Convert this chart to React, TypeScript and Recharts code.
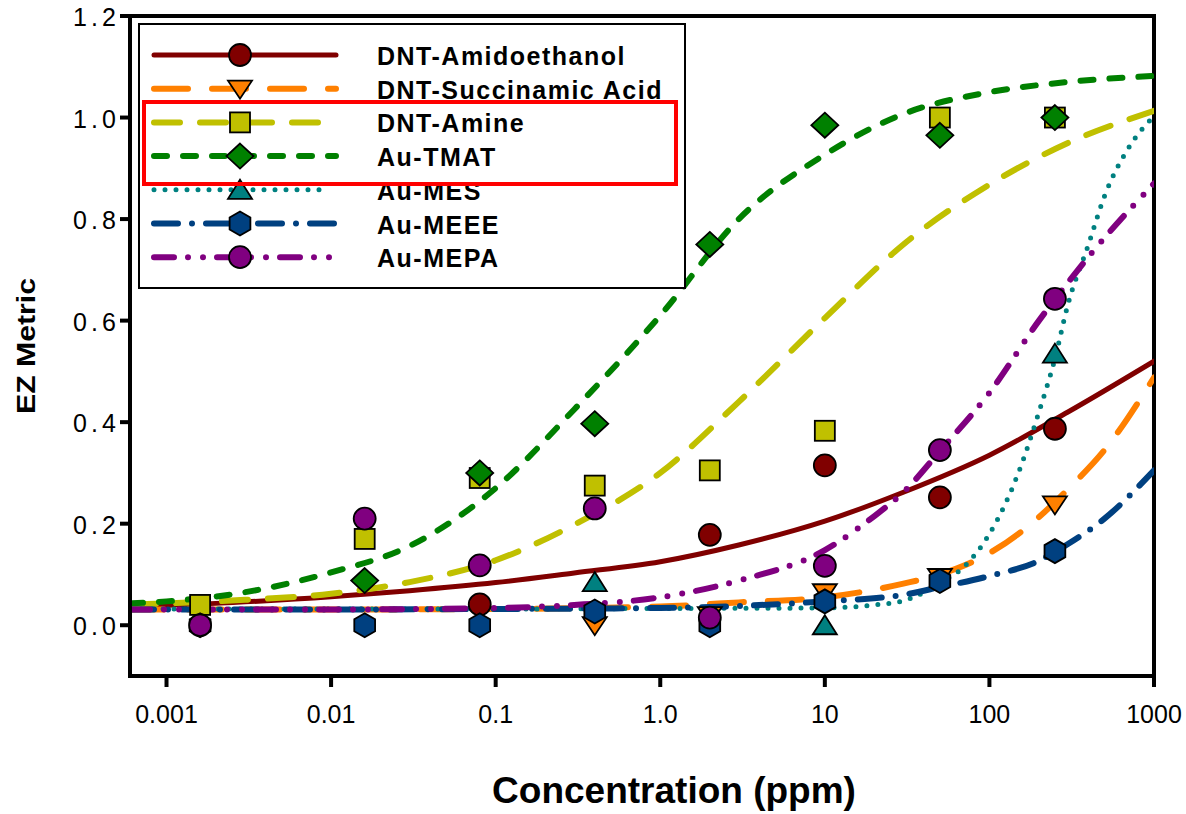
import {
  ComposedChart,
  Label,
  Line,
  ReferenceArea,
  Scatter,
  XAxis,
  YAxis,
} from "recharts";

const FONT = '"Liberation Sans", Arial, Helvetica, sans-serif';

// measured concentrations (ppm) and EZ metric per sensor; null = not visible
const sampleConc = [0.0016, 0.016, 0.08, 0.4, 2, 10, 50, 250];
const amidoethanolEz = [null, null, 0.041, null, 0.178, 0.315, 0.252, 0.387];
const succinamicEz = [null, null, null, 0.0, 0.02, 0.065, 0.095, 0.238];
const amineEz = [0.04, 0.17, 0.29, 0.275, 0.305, 0.383, 1.0, 1.0];
const tmatEz = [null, 0.088, 0.3, 0.397, 0.75, 0.985, 0.965, 1.0];
const mesEz = [null, null, null, 0.085, null, 0.0, null, 0.535];
const meeeEz = [0, 0, 0, 0.027, 0, 0.047, 0.087, 0.146];
const mepaEz = [0, 0.21, 0.118, 0.23, 0.015, 0.117, 0.345, 0.643];

// fitted curves, values
const fitConc = [0.0006, 0.001, 0.003, 0.01, 0.03, 0.1, 0.3, 1, 3, 10, 30, 100, 300, 1000];
const amidoethanolFit = [0.037, 0.039, 0.046, 0.056, 0.068, 0.084, 0.103, 0.125, 0.158, 0.205, 0.262, 0.335, 0.42, 0.52];
const amineFit = [0.041, 0.043, 0.05, 0.062, 0.085, 0.128, 0.198, 0.3, 0.44, 0.605, 0.75, 0.868, 0.95, 1.013];
const tmatFit = [0.043, 0.047, 0.065, 0.104, 0.156, 0.27, 0.425, 0.61, 0.8, 0.927, 1.007, 1.05, 1.07, 1.082];

const succinamicFitConc = [0.0006, 0.01, 0.1, 1, 3, 10, 30, 50, 100, 200, 300, 500, 1000];
const succinamicFit = [0.031, 0.031, 0.032, 0.037, 0.045, 0.055, 0.082, 0.1, 0.142, 0.213, 0.268, 0.345, 0.488];

const meeeFitConc = [0.0006, 0.01, 0.1, 1, 3, 10, 30, 50, 100, 200, 300, 500, 1000];
const meeeFit = [0.031, 0.031, 0.032, 0.034, 0.038, 0.047, 0.06, 0.075, 0.097, 0.127, 0.16, 0.21, 0.305];

const mesFitConc = [0.0006, 0.1, 1, 10, 20, 30, 50, 70, 100, 150, 200, 250, 300, 400, 500, 700, 1000];
const mesFit = [0.032, 0.032, 0.033, 0.034, 0.04, 0.048, 0.083, 0.115, 0.18, 0.3, 0.42, 0.525, 0.632, 0.75, 0.845, 0.94, 1.003];

const mepaFitConc = [0.0006, 0.01, 0.1, 0.3, 1, 3, 10, 20, 30, 50, 100, 200, 300, 500, 1000];
const mepaFit = [0.031, 0.031, 0.034, 0.04, 0.055, 0.088, 0.148, 0.215, 0.262, 0.343, 0.458, 0.6, 0.675, 0.763, 0.87];

const xTicks = [0.001, 0.01, 0.1, 1, 10, 100, 1000];
const xTickLabels = ["0.001", "0.01", "0.1", "1.0", "10", "100", "1000"];
const yTicks = [0, 0.2, 0.4, 0.6, 0.8, 1.0, 1.2];
const yTickLabels = ["0.0", "0.2", "0.4", "0.6", "0.8", "1.0", "1.2"];

type Pt = { x: number; y: number };
const zip = (xs: number[], ys: (number | null)[]): Pt[] =>
  xs
    .map((x, i) => ({ x, y: ys[i] }))
    .filter((p): p is Pt => p.y !== null);

type MarkerKind = "circle" | "triDown" | "square" | "diamond" | "triUp" | "hexagon";

const series: {
  name: string;
  color: string;
  marker: MarkerKind;
  width: number;
  dash?: string;
  points: Pt[];
  fit: Pt[];
}[] = [
  { name: "DNT-Amidoethanol", color: "#800000", marker: "circle", width: 5, points: zip(sampleConc, amidoethanolEz), fit: zip(fitConc, amidoethanolFit) },
  { name: "DNT-Succinamic Acid", color: "#ff8000", marker: "triDown", width: 6, dash: "34 24", points: zip(sampleConc, succinamicEz), fit: zip(succinamicFitConc, succinamicFit) },
  { name: "DNT-Amine", color: "#c0c000", marker: "square", width: 6, dash: "26 20", points: zip(sampleConc, amineEz), fit: zip(fitConc, amineFit) },
  { name: "Au-TMAT", color: "#008000", marker: "diamond", width: 6, dash: "13 16", points: zip(sampleConc, tmatEz), fit: zip(fitConc, tmatFit) },
  { name: "Au-MES", color: "#008080", marker: "triUp", width: 5, dash: "0 11", points: zip(sampleConc, mesEz), fit: zip(mesFitConc, mesFit) },
  { name: "Au-MEEE", color: "#004080", marker: "hexagon", width: 6, dash: "24 14 0 14", points: zip(sampleConc, meeeEz), fit: zip(meeeFitConc, meeeFit) },
  { name: "Au-MEPA", color: "#800080", marker: "circle", width: 6, dash: "20 14 0 15 0 14", points: zip(sampleConc, mepaEz), fit: zip(mepaFitConc, mepaFit) },
];

function Marker({ kind, cx, cy, fill }: { kind: MarkerKind; cx: number; cy: number; fill: string }) {
  const common = { fill, stroke: "#000", strokeWidth: 1.8 };
  switch (kind) {
    case "circle":
      return <circle cx={cx} cy={cy} r={11} {...common} />;
    case "square":
      return <rect x={cx - 10} y={cy - 10} width={20} height={20} {...common} />;
    case "diamond":
      return (
        <polygon
          points={`${cx},${cy - 12.5} ${cx + 13.5},${cy} ${cx},${cy + 12.5} ${cx - 13.5},${cy}`}
          {...common}
        />
      );
    case "triDown":
      return (
        <polygon
          points={`${cx - 12},${cy - 8} ${cx + 12},${cy - 8} ${cx},${cy + 10}`}
          {...common}
        />
      );
    case "triUp":
      return (
        <polygon
          points={`${cx},${cy - 10} ${cx + 12},${cy + 9} ${cx - 12},${cy + 9}`}
          {...common}
        />
      );
    case "hexagon": {
      const pts = [0, 60, 120, 180, 240, 300]
        .map((a) => {
          const r = ((a - 90) * Math.PI) / 180;
          return `${cx + 12 * Math.cos(r)},${cy + 12 * Math.sin(r)}`;
        })
        .join(" ");
      return <polygon points={pts} {...common} />;
    }
  }
}

function XTick(props: any) {
  const { x, y, index } = props;
  return (
    <text x={x} y={y} dy={34} textAnchor="middle" fontSize={25} fontFamily={FONT} fill="#000">
      {xTickLabels[index]}
    </text>
  );
}

function YTick(props: any) {
  const { x, y, index } = props;
  return (
    <text
      x={x - 2}
      y={y}
      dy={10}
      textAnchor="end"
      fontSize={25}
      fontFamily={FONT}
      fill="#000"
      textLength={43}
      lengthAdjust="spacing"
    >
      {yTickLabels[index]}
    </text>
  );
}

function XTitle(props: any) {
  const vb = props.viewBox;
  return (
    <text
      x={vb.x + vb.width / 2 + 32}
      y={vb.y + 127}
      textAnchor="middle"
      fontSize={37}
      fontWeight="bold"
      fontFamily={FONT}
      fill="#000"
    >
      Concentration (ppm)
    </text>
  );
}

function YTitle(props: any) {
  const vb = props.viewBox;
  const cx = 35;
  const cy = vb.y + vb.height / 2;
  return (
    <text
      x={cx}
      y={cy}
      transform={`rotate(-90 ${cx} ${cy})`}
      textAnchor="middle"
      fontSize={25}
      fontWeight="bold"
      fontFamily={FONT}
      fill="#000"
      textLength={136}
      lengthAdjust="spacingAndGlyphs"
    >
      EZ Metric
    </text>
  );
}

function LegendBox() {
  const rowY = (i: number) => 55 + i * 33.7;
  return (
    <svg
      width={1186}
      height={814}
      style={{ position: "absolute", left: 0, top: 0, pointerEvents: "none" }}
    >
      <rect x={139} y={24} width={546} height={264} fill="#fff" stroke="#000" strokeWidth={2} />
      {series.map((s, i) => (
        <g key={s.name}>
          <line
            x1={154}
            x2={s.dash === "0 11" ? 323 : 336}
            y1={rowY(i)}
            y2={rowY(i)}
            stroke={s.color}
            strokeWidth={s.width}
            strokeDasharray={s.dash}
            strokeLinecap="round"
          />
          <Marker kind={s.marker} cx={240} cy={rowY(i)} fill={s.color} />
          <text
            x={377}
            y={rowY(i) + 10}
            fontSize={25}
            fontWeight="bold"
            fontFamily={FONT}
            letterSpacing={1.5}
            fill="#000"
          >
            {s.name}
          </text>
        </g>
      ))}
      <rect x={144} y={102} width={532} height={82} fill="none" stroke="#ff0000" strokeWidth={4} />
    </svg>
  );
}

export default function App() {
  return (
    <div
      style={{
        position: "absolute",
        left: 0,
        top: 0,
        width: 1186,
        height: 814,
        background: "#fff",
      }}
    >
      <ComposedChart
        width={1186}
        height={814}
        margin={{ top: 16, right: 32, bottom: 78, left: 70 }}
      >
        <XAxis
          dataKey="x"
          type="number"
          scale="log"
          domain={[0.0006, 1000]}
          ticks={xTicks}
          allowDataOverflow
          height={60}
          tickSize={11}
          axisLine={{ stroke: "#000", strokeWidth: 4 }}
          tickLine={{ stroke: "#000", strokeWidth: 4 }}
          tick={<XTick />}
        >
          <Label content={<XTitle />} />
        </XAxis>
        <YAxis
          dataKey="y"
          type="number"
          domain={[-0.1, 1.2]}
          ticks={yTicks}
          allowDataOverflow
          width={60}
          tickSize={10}
          axisLine={{ stroke: "#000", strokeWidth: 4 }}
          tickLine={{ stroke: "#000", strokeWidth: 4 }}
          tick={<YTick />}
        >
          <Label content={<YTitle />} />
        </YAxis>
        <ReferenceArea
          x1={0.0006}
          x2={1000}
          y1={-0.1}
          y2={1.2}
          fill="none"
          stroke="#000"
          strokeWidth={4}
          ifOverflow="visible"
        />
        {series.map((s) => (
          <Line
            key={`fit-${s.name}`}
            data={s.fit}
            dataKey="y"
            type="monotone"
            stroke={s.color}
            strokeWidth={s.width}
            strokeDasharray={s.dash}
            strokeLinecap="round"
            dot={false}
            activeDot={false}
            isAnimationActive={false}
          />
        ))}
        {series.map((s) => (
          <Scatter
            key={`pts-${s.name}`}
            name={s.name}
            data={s.points}
            dataKey="y"
            isAnimationActive={false}
            shape={(p: any) => (
              <Marker kind={s.marker} cx={p.cx} cy={p.cy} fill={s.color} />
            )}
          />
        ))}
      </ComposedChart>
      <LegendBox />
    </div>
  );
}
